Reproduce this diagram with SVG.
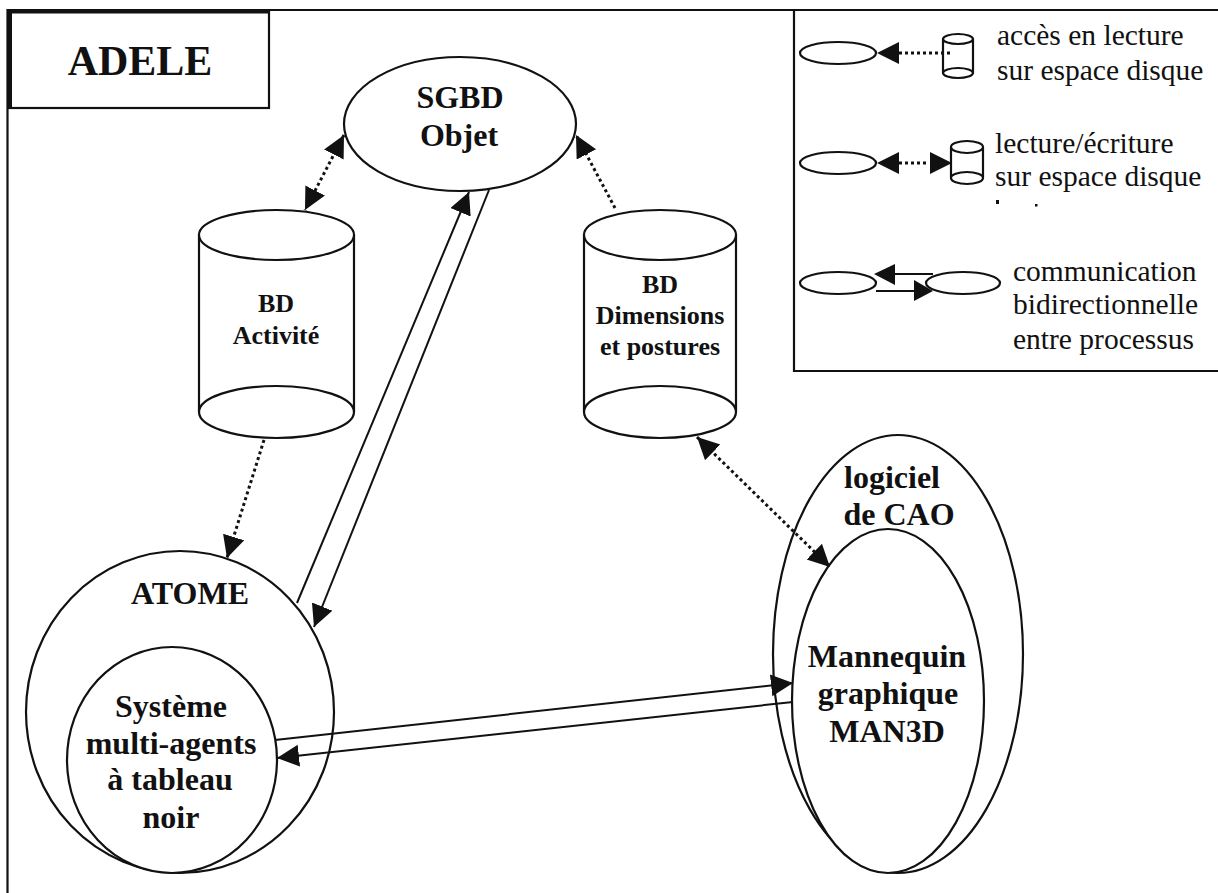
<svg xmlns="http://www.w3.org/2000/svg" width="1218" height="893" viewBox="0 0 1218 893">
<style>
.s{fill:#fff;stroke:#111;stroke-width:2.200}
.n{fill:none;stroke:#111;stroke-width:2.200}
.l{fill:none;stroke:#111;stroke-width:2}
.d{fill:none;stroke:#111;stroke-width:3;stroke-dasharray:3 3}
.m{fill:#111}
text{font-family:"Liberation Serif","Times New Roman",serif;fill:#111;text-anchor:middle}
.b{font-weight:bold;font-size:32px}
.c{font-weight:bold;font-size:26px}
.t{font-size:29.500px;text-anchor:start}
</style>
<defs>
<marker id="a" markerUnits="userSpaceOnUse" markerWidth="24" markerHeight="24" refX="22" refY="11" orient="auto-start-reverse"><path class="m" d="M0 0L22 11L0 22Z"/></marker>
</defs>
<rect width="1218" height="893" fill="#fff"/>
<g id="frame">
<path class="n" d="M7.500 893V10H1218"/>
</g>
<g id="adele"><rect class="s" x="9" y="11" width="260" height="97"/><path d="M7 11.500H269M10 10V108" fill="none" stroke="#111" stroke-width="4"/><text x="140" y="75" style="font-weight:bold;font-size:42px">ADELE</text></g>
<g id="legend">
<path class="n" d="M794 9V371H1218"/>
<ellipse class="n" cx="838" cy="53" rx="38" ry="11"/>
<path class="n" d="M943 39V73A15 5 0 0 0 973 73V39M943 39A15 5 0 0 1 973 39A15 5 0 0 1 943 39M943 73A15 5 0 0 1 973 73"/>
<path class="d" d="M899 53H952"/><path class="m" d="M877 53L899 42V64Z"/>
<text class="t" x="997" y="45">accès en lecture</text><text class="t" x="997" y="80">sur espace disque</text>
<ellipse class="n" cx="838" cy="163" rx="38" ry="11"/>
<path class="n" d="M951 147V178A16 6 0 0 0 983 178V147M951 147A16 6 0 0 1 983 147A16 6 0 0 1 951 147M951 178A16 6 0 0 1 983 178"/>
<path class="d" d="M899 163H928"/><path class="m" d="M877 163L899 152V174ZM952 163L930 152V174Z"/>
<text class="t" x="995" y="153">lecture/écriture</text><text class="t" x="995" y="186">sur espace disque</text>
<rect class="m" x="996" y="200" width="3" height="4"/><rect class="m" x="1035" y="204" width="2.500" height="2.500"/>
<ellipse class="n" cx="838" cy="283" rx="38" ry="11"/>
<ellipse class="n" cx="963" cy="283" rx="37" ry="11"/>
<path class="n" d="M895 274H933M876 291H914"/><path class="m" d="M874 274L895 264V285ZM933 291L914 280V301Z"/>
<text class="t" x="1013" y="281">communication</text><text class="t" x="1013" y="314">bidirectionnelle</text><text class="t" x="1013" y="349">entre processus</text>
</g>
<g id="sgbd"><ellipse class="s" cx="460" cy="124" rx="116" ry="67"/><text class="b" x="460" y="108">SGBD</text><text class="b" x="459" y="146">Objet</text></g>
<g id="bd-activite"><path class="s" d="M199 235V412A77.500 26 0 0 0 354 412V235Z"/><ellipse class="s" cx="276.500" cy="235" rx="77.500" ry="25"/><path class="n" d="M199 412A77.500 26 0 0 1 354 412"/><text class="c" x="276" y="312">BD</text><text class="c" x="276" y="344">Activité</text></g>
<g id="bd-dimensions"><path class="s" d="M584 235V412A76 26 0 0 0 736 412V235Z"/><ellipse class="s" cx="660" cy="235" rx="76" ry="25"/><path class="n" d="M584 412A76 26 0 0 1 736 412"/><text class="c" x="660" y="293">BD</text><text class="c" x="660" y="324">Dimensions</text><text class="c" x="660" y="355">et postures</text></g>
<g id="atome"><ellipse class="s" cx="180" cy="712" rx="154" ry="161"/><text class="b" x="190" y="604">ATOME</text></g>
<g id="systeme"><ellipse class="s" cx="172" cy="760" rx="105" ry="113"/><text class="b" x="171" y="717">Système</text><text class="b" x="171" y="754">multi-agents</text><text class="b" x="170" y="790">à tableau</text><text class="b" x="171" y="828">noir</text></g>
<g id="cao"><ellipse class="s" cx="898" cy="654" rx="125" ry="219"/><text class="b" x="892" y="488">logiciel</text><text class="b" x="899" y="525">de CAO</text></g>
<g id="mannequin"><ellipse class="s" cx="888" cy="701" rx="96" ry="172"/><text class="b" x="887" y="667">Mannequin</text><text class="b" x="888" y="704">graphique</text><text class="b" x="887" y="742">MAN3D</text></g>
<g id="connectors">
<path class="d" d="M344 135L305 210" marker-start="url(#a)" marker-end="url(#a)"/>
<path class="d" d="M615 208L576 135" marker-end="url(#a)"/>
<path class="d" d="M264 440L227 558" marker-end="url(#a)"/>
<path class="d" d="M697 437L830 567" marker-start="url(#a)" marker-end="url(#a)"/>
<path class="l" d="M297 603L469 192" marker-end="url(#a)"/>
<path class="l" d="M489 190L314 627" marker-end="url(#a)"/>
<path class="l" d="M275 740L793 683" marker-end="url(#a)"/>
<path class="l" d="M793 702L277 758" marker-end="url(#a)"/>
</g>
</svg>
